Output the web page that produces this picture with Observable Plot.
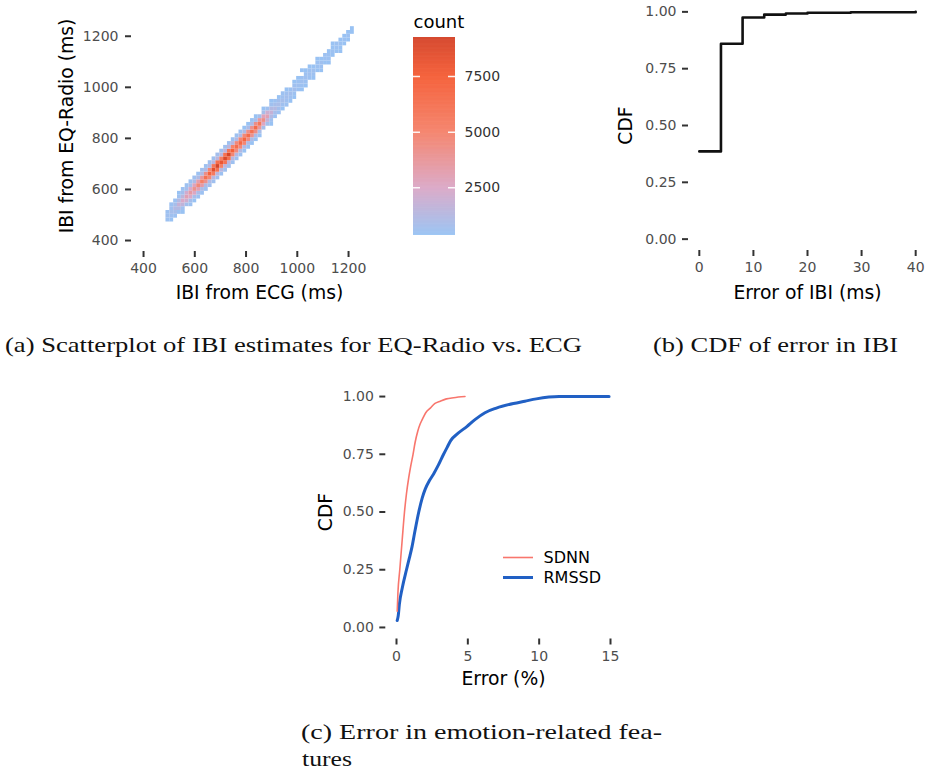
<!DOCTYPE html>
<html>
<head>
<meta charset="utf-8">
<script src="https://cdn.jsdelivr.net/npm/d3@7"></script>
<script src="https://cdn.jsdelivr.net/npm/@observablehq/plot@0.6"></script>
<style>
  html, body { margin: 0; padding: 0; background: #ffffff; }
  #page { position: relative; width: 927px; height: 772px; background: #ffffff; overflow: hidden; }
</style>
</head>
<body>
<div id="page"></div>
<script>
// ---------------- DATA ----------------
// (a) binned IBI estimates: column centres (IBI from ECG, ms)
const ibiEcg = [495,510,525,540,555,570,585,600,615,630,645,660,675,690,705,720,735,750,765,780,
  795,810,825,840,855,870,885,900,915,930,945,960,975,990,1005,1020,1035,1050,1065,1080,
  1095,1110,1125,1140,1155,1170,1185,1200,1215];
// deviation of EQ-Radio from ECG (ms) for the cells of each column
const ibiDeviation = [-45,-30,-15,0,15,30,45];
// counts per cell (in hundreds), one row per column, one entry per deviation
const ibiCountsHundreds = [
  [0,0,5,6,5,0,0],[0,4,6,8,6,5,0],[0,5,8,12,8,5,0],[0,5,12,18,12,6,4],[4,6,16,24,15,7,5],
  [0,7,20,30,22,8,5],[5,8,24,34,24,9,5],[4,9,26,40,28,10,6],[5,10,30,46,32,11,5],[5,10,34,52,36,11,6],
  [5,11,40,62,42,12,5],[6,12,46,72,48,13,6],[6,14,56,86,58,14,6],[6,15,62,92,64,15,7],[5,14,52,80,54,14,6],
  [6,15,60,90,62,16,6],[6,16,64,92,60,15,6],[5,14,48,74,50,13,5],[5,13,44,64,46,12,5],[5,12,46,68,48,12,5],
  [4,12,48,70,46,11,4],[4,11,44,66,42,10,4],[4,10,40,62,40,10,4],[4,10,42,66,42,9,4],[4,9,36,58,36,8,0],
  [0,8,26,42,28,8,4],[0,7,18,30,20,6,0],[4,6,12,18,12,6,4],[0,5,8,12,8,5,0],[0,5,7,9,7,4,0],
  [0,4,6,8,6,5,0],[0,5,6,7,6,4,0],[0,4,6,7,5,0,0],[0,4,5,7,6,4,0],[0,0,5,6,5,4,0],
  [0,4,5,6,5,0,4],[0,4,5,6,5,4,0],[0,0,5,6,5,4,0],[0,4,5,6,4,0,0],[0,0,4,5,5,4,0],
  [0,4,5,6,4,0,0],[0,0,4,5,5,0,0],[0,4,5,5,4,0,0],[0,0,4,5,4,4,0],[0,0,4,5,5,0,0],
  [0,4,4,5,4,0,0],[0,0,4,5,4,0,0],[0,0,4,5,4,0,0],[0,0,0,4,4,0,0]
];
const ibiBinMs = 15;
const ibiTicks = [400, 600, 800, 1000, 1200];
const countTicks = [2500, 5000, 7500];
const countStops = [360, 2500, 5000, 7500, 9250];
const countColors = ["#93c0f3", "#d9a3c3", "#f47c63", "#f4552c", "#d23a1e"];

// (b) CDF of IBI error
const ibiErrMs  = [0, 4, 8, 12, 16, 20, 28, 40];
const ibiErrCdf = [0.386, 0.86, 0.975, 0.988, 0.993, 0.996, 0.998, 1.0];
const cdfTicks = [0, 0.25, 0.5, 0.75, 1];
const ibiErrTicks = [0, 10, 20, 30, 40];

// (c) CDF of emotion-feature errors
const featureNames = ["SDNN", "RMSSD"];
const featureColors = ["#f8766d", "#2160c4"];
const sdnnErr = [0.05,0.1,0.23,0.4,0.56,0.7,0.86,1.0,1.16,1.3,1.49,1.65,1.8,2.05,2.37,2.7,3.07,3.5,4.0,4.8];
const sdnnCdf = [0.07,0.15,0.25,0.38,0.5,0.58,0.65,0.7,0.75,0.8,0.85,0.88,0.9,0.93,0.95,0.97,0.98,0.99,0.995,1.0];
const rmssdErr = [0.05,0.12,0.2,0.4,0.7,0.9,1.09,1.3,1.56,1.8,2.02,2.3,2.6,2.95,3.3,3.55,3.81,4.3,4.93,5.5,6.2,7.0,8.2,9.0,9.8,11.4,13,14.9];
const rmssdCdf = [0.03,0.05,0.1,0.17,0.25,0.3,0.35,0.42,0.5,0.56,0.6,0.635,0.665,0.705,0.75,0.78,0.81,0.84,0.87,0.9,0.93,0.95,0.97,0.98,0.99,1.0,1.0,1.0];
const featErrTicks = [0, 5, 10, 15];

// captions
const captionA = "(a) Scatterplot of IBI estimates for EQ-Radio vs. ECG";
const captionB = "(b) CDF of error in IBI";
const captionC1 = "(c) Error in emotion-related fea-";
const captionC2 = "tures";

// ---------------- RENDER ----------------
const page = document.getElementById("page");
const sans = "DejaVu Sans";
const tickGray = "#4d4d4d";
const tickDark = "#333333";
const titleSize = 18.75;
function place(el, left, top) {
  el.style.position = "absolute";
  el.style.left = left + "px";
  el.style.top = top + "px";
  el.style.maxWidth = "none";
  page.appendChild(el);
}
const baseStyle = {fontFamily: sans, fontSize: "14px", background: "transparent", overflow: "visible", color: "black"};
const fmt2 = d3.format(".2f");
const fmtInt = d3.format("d");

// captions layer
const cap = d3.create("svg").attr("width", 927).attr("height", 772);
[
  {t: captionA, x: 5, y: 352, w: 577},
  {t: captionB, x: 653, y: 352, w: 245},
  {t: captionC1, x: 301, y: 739, w: 361},
  {t: captionC2, x: 302, y: 766, w: 50}
].forEach(c => cap.append("text").attr("x", c.x).attr("y", c.y)
  .attr("textLength", c.w).attr("lengthAdjust", "spacingAndGlyphs")
  .attr("font-family", "Liberation Serif").attr("font-size", 21.5).attr("fill", "#111").text(c.t));
place(cap.node(), 0, 0);

// (a) scatter of binned counts
const cells = [];
ibiEcg.forEach((x, i) => ibiDeviation.forEach((dv, j) => {
  const c = ibiCountsHundreds[i][j] * 100;
  if (c > 0) cells.push({ecg: x, radio: x + dv, count: c});
}));
const colorA = {type: "linear", domain: countStops, range: countColors};
const plotA = Plot.plot({
  width: 400, height: 310,
  marginLeft: 131, marginRight: 13, marginTop: 0, marginBottom: 59,
  style: baseStyle,
  x: {domain: [353, 1352]},
  y: {domain: [357, 1340]},
  color: colorA,
  marks: [
    Plot.rect(cells, {
      x1: d => d.ecg - ibiBinMs / 2, x2: d => d.ecg + ibiBinMs / 2,
      y1: d => d.radio - ibiBinMs / 2, y2: d => d.radio + ibiBinMs / 2,
      fill: "count", fillOpacity: 0.95
    }),
    Plot.axisX({ticks: ibiTicks, tickFormat: fmtInt, tickSize: 6, tickPadding: 6, stroke: tickDark, strokeWidth: 2, fill: tickGray, fontSize: 14, label: null}),
    Plot.axisY({ticks: ibiTicks, tickFormat: fmtInt, tickSize: 6, tickPadding: 7, stroke: tickDark, strokeWidth: 2, fill: tickGray, fontSize: 14, label: null}),
    Plot.text(["IBI from ECG (ms)"], {text: d => d, frameAnchor: "bottom", dy: 47, textAnchor: "middle", lineAnchor: "bottom", fontSize: titleSize, fill: "black"}),
    Plot.text(["IBI from EQ-Radio (ms)"], {text: d => d, frameAnchor: "left", dx: -65, rotate: -90, textAnchor: "middle", lineAnchor: "middle", fontSize: titleSize, fill: "black"})
  ]
});
place(plotA, 0, 0);

// colour bar
const barStep = 20;
const barValues = d3.range(countStops[0], countStops[countStops.length - 1], barStep);
const plotBar = Plot.plot({
  width: 100, height: 250,
  marginLeft: 13, marginRight: 45, marginTop: 37, marginBottom: 15,
  style: baseStyle,
  y: {domain: [countStops[0], countStops[countStops.length - 1]]},
  color: colorA,
  marks: [
    Plot.rect(barValues, {y1: d => d, y2: d => Math.min(d + barStep * 1.6, countStops[countStops.length - 1]), fill: d => d + barStep / 2}),
    Plot.tickY(countTicks, {y: d => d, stroke: "white", strokeWidth: 1.5, strokeOpacity: 0.9, strokeDasharray: "7 28 7"}),
    Plot.axisY({ticks: countTicks, tickFormat: fmtInt, anchor: "right", tickSize: 0, tickPadding: 9, fill: "#333", fontSize: 14, label: null}),
    Plot.text(["count"], {text: d => d, frameAnchor: "top-left", dy: -15, textAnchor: "start", lineAnchor: "middle", fontSize: 18, fill: "black"})
  ]
});
place(plotBar, 400, 0);

// (b) CDF of IBI error
const plotB = Plot.plot({
  width: 347, height: 310,
  marginLeft: 108, marginRight: 1, marginTop: 0, marginBottom: 60,
  style: baseStyle,
  x: {domain: [-2, 42]},
  y: {domain: [-0.05, 1.05]},
  marks: [
    Plot.line(ibiErrMs, {x: d => d, y: (d, i) => ibiErrCdf[i], curve: "step-after", stroke: "#111", strokeWidth: 2.6}),
    Plot.axisX({ticks: ibiErrTicks, tickFormat: fmtInt, tickSize: 6, tickPadding: 6, stroke: tickDark, strokeWidth: 2, fill: tickGray, fontSize: 14, label: null}),
    Plot.axisY({ticks: cdfTicks, tickFormat: fmt2, tickSize: 6, tickPadding: 6, stroke: tickDark, strokeWidth: 2, fill: tickGray, fontSize: 14, label: null}),
    Plot.text(["Error of IBI (ms)"], {text: d => d, frameAnchor: "bottom", dy: 48, textAnchor: "middle", lineAnchor: "bottom", fontSize: titleSize, fill: "black"}),
    Plot.text(["CDF"], {text: d => d, frameAnchor: "left", dx: -63, rotate: -90, textAnchor: "middle", lineAnchor: "middle", fontSize: titleSize, fill: "black"})
  ]
});
place(plotB, 580, 0);

// (c) CDF of feature errors
const featRows = [
  ...sdnnErr.map((e, i) => ({feature: "SDNN", err: e, cdf: sdnnCdf[i]})),
  ...rmssdErr.map((e, i) => ({feature: "RMSSD", err: e, cdf: rmssdCdf[i]}))
];
const colorC = {domain: featureNames, range: featureColors};
const plotC = Plot.plot({
  width: 360, height: 330,
  marginLeft: 95.3, marginRight: 29.3, marginTop: 9.5, marginBottom: 66.5,
  style: baseStyle,
  x: {domain: [-0.75, 15.75]},
  y: {domain: [-0.05, 1.05]},
  color: colorC,
  marks: [
    Plot.line(featRows.filter(d => d.feature === "RMSSD"), {x: "err", y: "cdf", stroke: "feature", strokeWidth: 3, curve: "monotone-x"}),
    Plot.line(featRows.filter(d => d.feature === "SDNN"), {x: "err", y: "cdf", stroke: "feature", strokeWidth: 1.6, curve: "monotone-x"}),
    Plot.axisX({ticks: featErrTicks, tickFormat: fmtInt, tickSize: 6, tickPadding: 6, stroke: tickDark, strokeWidth: 2, fill: tickGray, fontSize: 14, label: null}),
    Plot.axisY({ticks: cdfTicks, tickFormat: fmt2, tickSize: 6, tickPadding: 6, stroke: tickDark, strokeWidth: 2, fill: tickGray, fontSize: 14, label: null}),
    Plot.text(["Error (%)"], {text: d => d, frameAnchor: "bottom", dy: 46, textAnchor: "middle", lineAnchor: "bottom", fontSize: titleSize, fill: "black"}),
    Plot.text(["CDF"], {text: d => d, frameAnchor: "left", dx: -60, rotate: -90, textAnchor: "middle", lineAnchor: "middle", fontSize: titleSize, fill: "black"})
  ]
});
place(plotC, 290, 375);

// legend for (c)
const plotLegend = Plot.plot({
  width: 130, height: 80,
  marginLeft: 0, marginRight: 100, marginTop: 0, marginBottom: 0,
  style: baseStyle,
  x: {axis: null},
  y: {type: "point", domain: featureNames, range: [19.7, 59.7], axis: null},
  color: colorC,
  marks: [
    Plot.tickY(["SDNN"], {y: d => d, stroke: d => d, strokeWidth: 1.6}),
    Plot.tickY(["RMSSD"], {y: d => d, stroke: d => d, strokeWidth: 3}),
    Plot.text(featureNames, {y: d => d, text: d => d, frameAnchor: "right", dx: 10, textAnchor: "start", fontSize: 16, fill: "black"})
  ]
});
place(plotLegend, 503, 527);
</script>
</body>
</html>
